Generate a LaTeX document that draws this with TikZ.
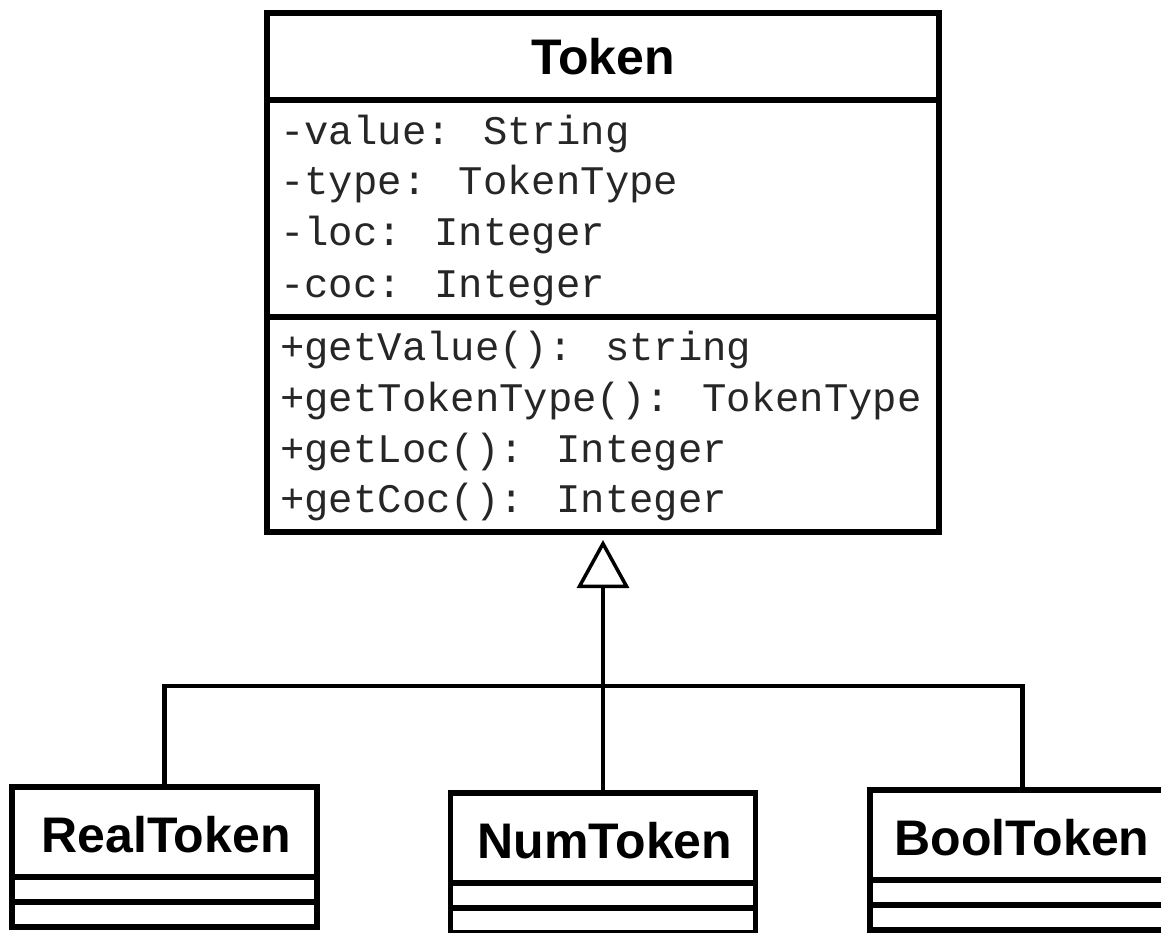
\documentclass[tikz,border=0pt]{standalone}
\usepackage{fontspec}
\setmainfont{Liberation Sans}
\newfontfamily\umlmono{Liberation Mono}
\usetikzlibrary{arrows.meta}
\begin{document}
\begin{tikzpicture}[x=1pt,y=-1pt,
  box/.style={draw, line width=5.5pt, inner sep=0pt, outer sep=0pt, anchor=north west, fill=white},
  member/.style={anchor=base west, inner sep=0pt, text=black!85, font=\umlmono\fontsize{40.6}{48}\selectfont},
  cname/.style={anchor=base, inner sep=0pt, font=\bfseries\fontsize{50}{60}\selectfont},
  link/.style={line width=4.5pt},
  inherit/.style={link, -{Triangle[open, length=48pt, width=52pt, line width=3.5pt]}, shorten >=8pt},
]
\useasboundingbox (0,0) rectangle (1161,933);
\clip (0,0) rectangle (1161,933);

% superclass Token
\node[box, minimum width=672pt, minimum height=87pt]  (tokH) at (267,13) {};
\node[box, minimum width=672pt, minimum height=217pt] (tokA) at (tokH.south west) {};
\node[box, minimum width=672pt, minimum height=215pt] (tokM) at (tokA.south west) {};
\node[cname] (tokName) at (603,75) {Token};

\node[member] (a1) at (280,145) {-value: String};
\node[member] (a2) at (280,195) {-type: TokenType};
\node[member] (a3) at (280,246) {-loc: Integer};
\node[member] (a4) at (280,297) {-coc: Integer};

\node[member] (m1) at (280,360) {+getValue(): string};
\node[member] (m2) at (280,411) {+getTokenType(): TokenType};
\node[member] (m3) at (280,462) {+getLoc(): Integer};
\node[member] (m4) at (280,512) {+getCoc(): Integer};

% subclasses
\node[box, minimum width=305pt, minimum height=90pt] (realH) at (12,787) {};
\node[box, minimum width=305pt, minimum height=25pt] (realA) at (realH.south west) {};
\node[box, minimum width=305pt, minimum height=25pt] (realM) at (realA.south west) {};
\node[cname] (realName) at (166,852) {RealToken};

\node[box, minimum width=305pt, minimum height=90pt] (numH) at (450.5,793) {};
\node[box, minimum width=305pt, minimum height=25pt] (numA) at (numH.south west) {};
\node[box, minimum width=305pt, minimum height=25pt] (numM) at (numA.south west) {};
\node[cname] (numName) at (605,858) {NumToken};

\node[box, minimum width=305pt, minimum height=90pt] (boolH) at (870,790) {};
\node[box, minimum width=305pt, minimum height=25pt] (boolA) at (boolH.south west) {};
\node[box, minimum width=305pt, minimum height=25pt] (boolM) at (boolA.south west) {};
\node[cname] (boolName) at (1022,855) {BoolToken};

% generalization
\coordinate (fork) at (603,686);
\draw[inherit] (numH.north) -- (tokM.south);
\draw[link] (realH.north) |- (fork) -| (boolH.north);
\end{tikzpicture}
\end{document}
